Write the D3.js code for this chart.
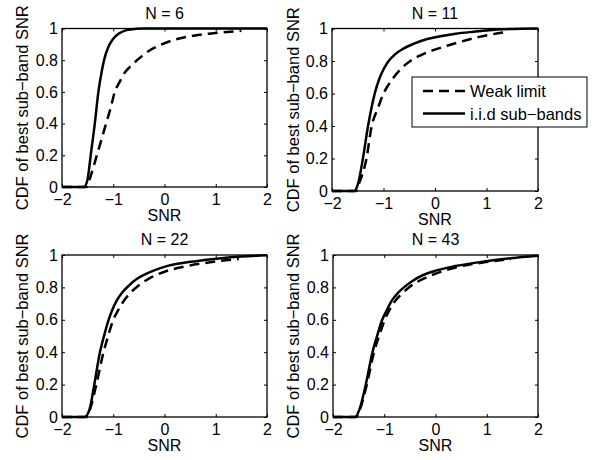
<!DOCTYPE html>
<html>
<head>
<meta charset="utf-8">
<script src="https://cdn.jsdelivr.net/npm/d3@7"></script>
<style>
  body { margin: 0; background: #fff; }
  svg { display: block; font-family: "Liberation Sans", Arial, sans-serif; }
</style>
</head>
<body>
<div id="chart"></div>
<script>
// CDF of the best sub-band SNR, four panels (N = 6, 11, 22, 43)

// Data, [SNR, CDF]
const panelTitles = ["N = 6", "N = 11", "N = 22", "N = 43"];
const seriesNames = ["Weak limit", "i.i.d sub\u2212bands"];
const xTicks = [-2, -1, 0, 1, 2];
const yTicks = [0, 0.2, 0.4, 0.6, 0.8, 1];

const weakN6 = [[-2, 0], [-1.52, 0], [-1.46, 0.05], [-1.32, 0.2], [-1.14, 0.4], [-1.05, 0.5],
  [-0.97, 0.6], [-0.88, 0.66], [-0.78, 0.72], [-0.65, 0.765], [-0.5, 0.81], [-0.3, 0.86],
  [-0.09, 0.895], [0.15, 0.925], [0.43, 0.947], [0.95, 0.97], [1.5, 0.985]];
const iidN6 = [[-2, 0], [-1.57, 0], [-1.5, 0.05], [-1.44, 0.2], [-1.36, 0.4], [-1.29, 0.6],
  [-1.23, 0.72], [-1.18, 0.8], [-1.1, 0.88], [-1.0, 0.935], [-0.88, 0.97], [-0.74, 0.99],
  [-0.55, 0.998], [-0.4, 1], [2, 1]];

const weakN11 = [[-2, 0], [-1.53, 0], [-1.47, 0.05], [-1.33, 0.2], [-1.23, 0.4], [-1.12, 0.5],
  [-1.0, 0.6], [-0.9, 0.655], [-0.8, 0.7], [-0.65, 0.755], [-0.48, 0.8], [-0.28, 0.835],
  [-0.05, 0.865], [0.3, 0.9], [0.88, 0.95], [1.43, 0.98]];
const iidN11 = [[-2, 0], [-1.57, 0], [-1.49, 0.05], [-1.4, 0.2], [-1.3, 0.4], [-1.17, 0.6],
  [-1.07, 0.7], [-0.98, 0.76], [-0.9, 0.8], [-0.78, 0.84], [-0.62, 0.875], [-0.42, 0.905],
  [-0.15, 0.935], [0.1, 0.952], [0.4, 0.968], [0.75, 0.98], [1.3, 0.995], [2, 1]];

const weakN22 = [[-2, 0], [-1.52, 0], [-1.45, 0.05], [-1.33, 0.2], [-1.19, 0.4], [-1.1, 0.5],
  [-1.0, 0.6], [-0.92, 0.65], [-0.83, 0.7], [-0.7, 0.755], [-0.55, 0.8], [-0.3, 0.855],
  [0.03, 0.9], [0.42, 0.93], [1.0, 0.96], [1.45, 0.975]];
const iidN22 = [[-2, 0], [-1.56, 0], [-1.46, 0.05], [-1.37, 0.2], [-1.26, 0.4], [-1.18, 0.5],
  [-1.1, 0.59], [-1.02, 0.66], [-0.93, 0.72], [-0.82, 0.77], [-0.7, 0.81], [-0.55, 0.85],
  [-0.38, 0.88], [-0.2, 0.905], [0.03, 0.93], [0.3, 0.948], [0.61, 0.962], [1.06, 0.978],
  [1.5, 0.99], [2, 0.998]];

const weakN43 = [[-2, 0], [-1.55, 0], [-1.47, 0.05], [-1.34, 0.2], [-1.2, 0.4], [-1.1, 0.5],
  [-0.99, 0.6], [-0.9, 0.66], [-0.79, 0.715], [-0.66, 0.76], [-0.52, 0.8], [-0.35, 0.835],
  [-0.12, 0.87], [0.14, 0.9], [0.49, 0.93], [1.08, 0.96], [1.47, 0.975]];
const iidN43 = [[-2, 0], [-1.57, 0], [-1.48, 0.05], [-1.36, 0.2], [-1.23, 0.4], [-1.14, 0.5],
  [-1.04, 0.6], [-0.95, 0.66], [-0.85, 0.72], [-0.72, 0.77], [-0.6, 0.805], [-0.45, 0.84],
  [-0.25, 0.875], [-0.03, 0.9], [0.36, 0.93], [0.95, 0.96], [1.47, 0.98], [2, 0.995]];

const panelData = [[weakN6, iidN6], [weakN11, iidN11], [weakN22, iidN22], [weakN43, iidN43]];

// panel boxes in pixels
const boxes = [
  {left: 62, right: 267, top: 28.5, bottom: 187, ylabX: 27.5},
  {left: 332, right: 538, top: 28.5, bottom: 191, ylabX: 299},
  {left: 62, right: 267, top: 255, bottom: 417, ylabX: 27.5},
  {left: 333, right: 538, top: 255, bottom: 417, ylabX: 299}
];

const W = 602, H = 460;
const tickLen = 3;
const dashes = "10,6";

const svg = d3.select("#chart").append("svg")
  .attr("width", W)
  .attr("height", H);

const fmt = d3.format("~g");

function drawPanel(i) {
  let b = boxes[i];
  let x = d3.scaleLinear().domain([-2, 2]).range([b.left, b.right]);
  let y = d3.scaleLinear().domain([0, 1]).range([b.bottom, b.top]);
  let g = svg.append("g");

  // curves
  let line = d3.line()
    .x(d => x(d[0]))
    .y(d => y(d[1]))
    .curve(d3.curveMonotoneX);

  g.append("path")
    .attr("d", line(panelData[i][0]))
    .attr("fill", "none")
    .attr("stroke", "#000")
    .attr("stroke-width", 2.5)
    .attr("stroke-dasharray", dashes);

  g.append("path")
    .attr("d", line(panelData[i][1]))
    .attr("fill", "none")
    .attr("stroke", "#000")
    .attr("stroke-width", 2.5);

  // box
  g.append("rect")
    .attr("x", b.left)
    .attr("y", b.top)
    .attr("width", b.right - b.left)
    .attr("height", b.bottom - b.top)
    .attr("fill", "none")
    .attr("stroke", "#000")
    .attr("stroke-width", 1.3);

  // axes with inward ticks, labels
  let xAxis = d3.axisBottom(x).tickValues(xTicks).tickSize(-tickLen).tickPadding(7).tickFormat(fmt);
  let xAxisTop = d3.axisTop(x).tickValues(xTicks).tickSize(-tickLen).tickFormat("");
  let yAxis = d3.axisLeft(y).tickValues(yTicks).tickSize(-tickLen).tickPadding(4).tickFormat(fmt);
  let yAxisRight = d3.axisRight(y).tickValues(yTicks).tickSize(-tickLen).tickFormat("");

  let axes = [
    g.append("g").attr("transform", `translate(0,${b.bottom})`).call(xAxis),
    g.append("g").attr("transform", `translate(0,${b.top})`).call(xAxisTop),
    g.append("g").attr("transform", `translate(${b.left},0)`).call(yAxis),
    g.append("g").attr("transform", `translate(${b.right},0)`).call(yAxisRight)
  ];
  axes.forEach(a => {
    a.select(".domain").remove();
    a.selectAll(".tick line").attr("stroke", "#000").attr("stroke-width", 1);
    a.selectAll("text")
      .attr("fill", "#000")
      .style("font-size", "16px")
      .style("font-family", "'Liberation Sans', Arial, sans-serif");
  });

  // title
  g.append("text")
    .attr("x", (b.left + b.right) / 2)
    .attr("y", b.top - 10)
    .attr("text-anchor", "middle")
    .style("font-size", "16px")
    .text(panelTitles[i]);

  // x label
  g.append("text")
    .attr("x", (b.left + b.right) / 2)
    .attr("y", b.bottom + 34)
    .attr("text-anchor", "middle")
    .style("font-size", "16px")
    .text("SNR");

  // y label
  g.append("text")
    .attr("transform", `translate(${b.ylabX},${(b.top + b.bottom) / 2}) rotate(-90)`)
    .attr("text-anchor", "middle")
    .style("font-size", "16.5px")
    .text("CDF of best sub\u2212band SNR");
}

for (let i = 0; i < 4; i++) {
  drawPanel(i);
}

// legend in the N = 11 panel
let leg = svg.append("g");
leg.append("rect")
  .attr("x", 412).attr("y", 77)
  .attr("width", 175).attr("height", 50)
  .attr("fill", "#fff")
  .attr("stroke", "#000")
  .attr("stroke-width", 1);

let legRows = [91, 113.5];
seriesNames.forEach((name, k) => {
  leg.append("line")
    .attr("x1", 423).attr("x2", 465)
    .attr("y1", legRows[k]).attr("y2", legRows[k])
    .attr("stroke", "#000")
    .attr("stroke-width", 2.5)
    .attr("stroke-dasharray", k == 0 ? dashes : null);
  leg.append("text")
    .attr("x", 470)
    .attr("y", legRows[k] + 6)
    .style("font-size", "16.5px")
    .text(name);
});
</script>
</body>
</html>
